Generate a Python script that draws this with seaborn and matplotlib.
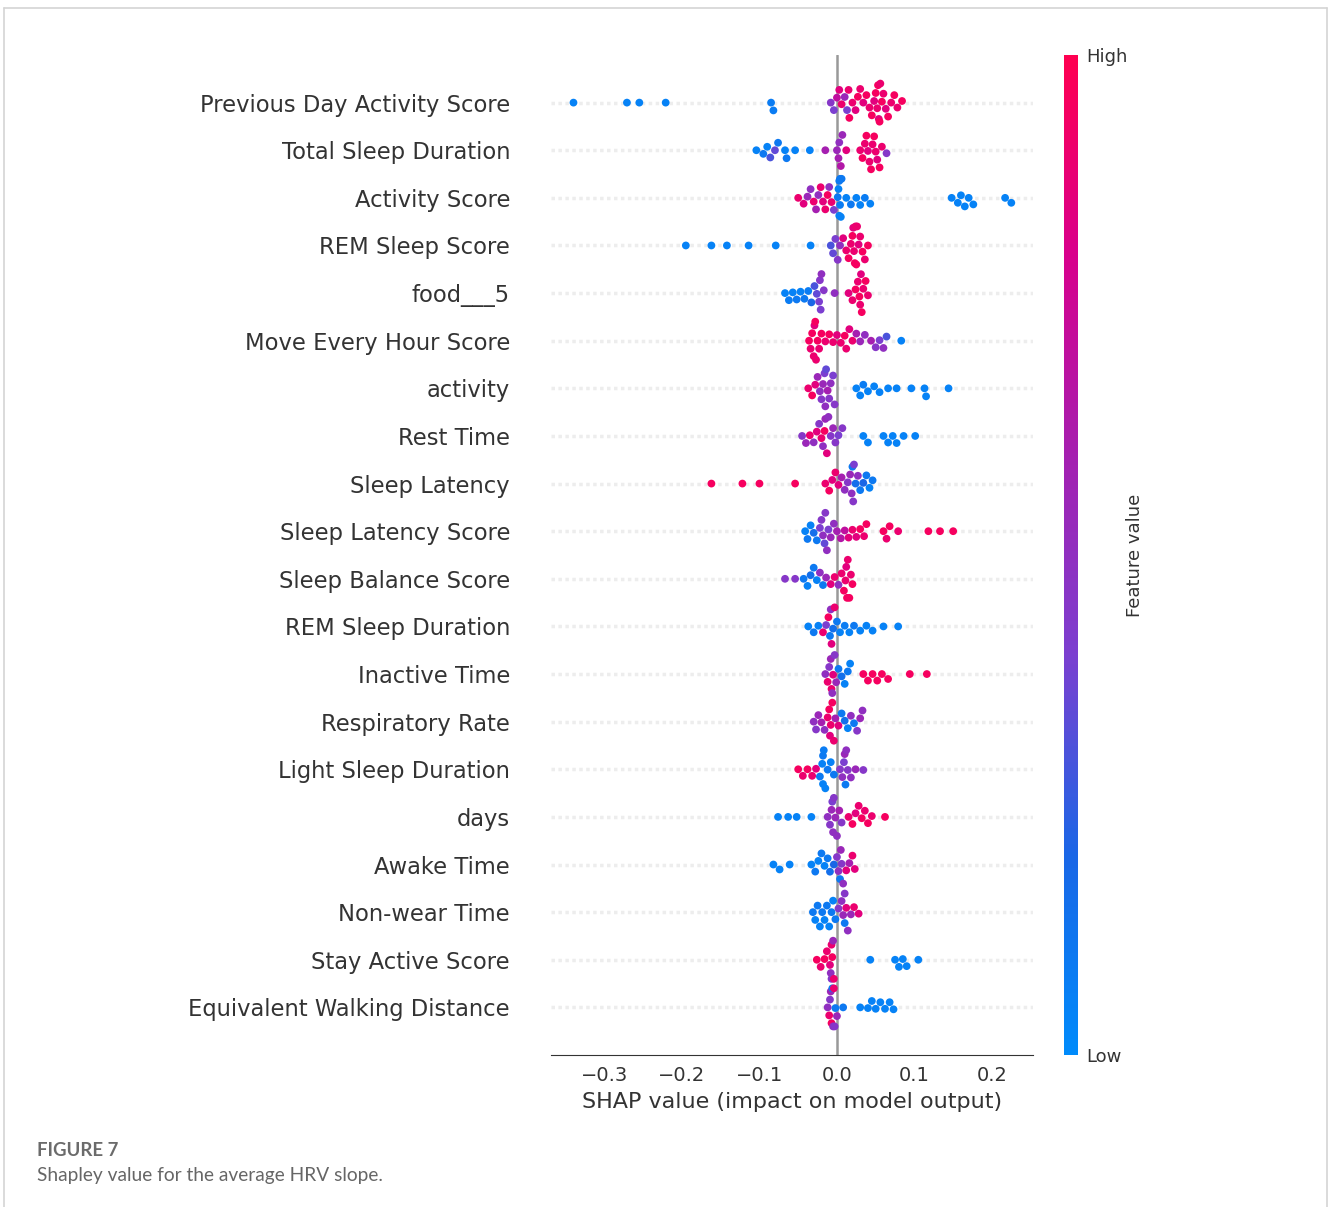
import warnings

import matplotlib.pyplot as plt
import pandas as pd
import seaborn as sns
from matplotlib.cm import ScalarMappable
from matplotlib.colors import LinearSegmentedColormap, Normalize
from matplotlib.lines import Line2D

warnings.filterwarnings("ignore")

features = [
    "Previous Day Activity Score", "Total Sleep Duration", "Activity Score",
    "REM Sleep Score", "food___5", "Move Every Hour Score", "activity",
    "Rest Time", "Sleep Latency", "Sleep Latency Score", "Sleep Balance Score",
    "REM Sleep Duration", "Inactive Time", "Respiratory Rate",
    "Light Sleep Duration", "days", "Awake Time", "Non-wear Time",
    "Stay Active Score", "Equivalent Walking Distance",
]

# SHAP values and (normalised) feature values, one pair per row
prev_day_shap = [-0.340, -0.271, -0.255, -0.221, -0.085, -0.082, -0.008, -0.004, 0.000, 0.003,
                 0.006, 0.010, 0.013, 0.015, 0.016, 0.020, 0.024, 0.027, 0.030, 0.034, 0.038,
                 0.042, 0.045, 0.048, 0.050, 0.052, 0.053, 0.054, 0.055, 0.056, 0.058, 0.060,
                 0.063, 0.066, 0.070, 0.074, 0.078, 0.084]
prev_day_val = [0.05, 0.05, 0.05, 0.05, 0.08, 0.08, 0.45, 0.4, 0.7, 0.85, 0.9, 0.55, 0.4, 0.9,
                0.95, 0.9, 0.85, 0.95, 0.9, 0.85, 0.95, 0.9, 0.95, 0.85, 0.95, 0.9, 0.95, 0.85,
                0.95, 0.9, 0.95, 0.9, 0.85, 0.95, 0.9, 0.95, 0.9, 0.95]

total_sleep_shap = [-0.104, -0.095, -0.090, -0.086, -0.080, -0.076, -0.067, -0.065, -0.054, -0.035,
                    -0.015, 0.000, 0.002, 0.003, 0.005, 0.007, 0.012, 0.030, 0.033, 0.036, 0.038,
                    0.040, 0.042, 0.044, 0.046, 0.048, 0.050, 0.052, 0.055, 0.058, 0.064]
total_sleep_val = [0.05, 0.1, 0.05, 0.3, 0.35, 0.1, 0.05, 0.1, 0.05, 0.05, 0.6, 0.55, 0.6, 0.5,
                   0.65, 0.55, 0.85, 0.9, 0.95, 0.9, 0.95, 0.85, 0.9, 0.95, 0.9, 0.95, 0.9, 0.85,
                   0.95, 0.9, 0.45]

activity_score_shap = [-0.050, -0.043, -0.038, -0.034, -0.030, -0.027, -0.024, -0.021, -0.018,
                       -0.015, -0.012, -0.010, -0.007, -0.004, 0.001, 0.002, 0.003, 0.003, 0.004,
                       0.004, 0.005, 0.006, 0.012, 0.018, 0.025, 0.030, 0.036, 0.043, 0.148,
                       0.156, 0.160, 0.165, 0.170, 0.176, 0.217, 0.225]
activity_score_val = [0.9, 0.85, 0.55, 0.5, 0.9, 0.6, 0.5, 0.9, 0.85, 0.9, 0.95, 0.5, 0.9, 0.4,
                      0.1, 0.05, 0.1, 0.05, 0.08, 0.1, 0.05, 0.1, 0.05, 0.1, 0.05, 0.05, 0.08,
                      0.05, 0.05, 0.05, 0.05, 0.05, 0.05, 0.05, 0.05, 0.05]

rem_score_shap = [-0.195, -0.162, -0.142, -0.114, -0.079, -0.034, -0.008, -0.005, -0.002, 0.001,
                  0.004, 0.008, 0.012, 0.015, 0.018, 0.020, 0.021, 0.022, 0.023, 0.024, 0.025,
                  0.026, 0.028, 0.030, 0.033, 0.036, 0.040]
rem_score_val = [0.05, 0.05, 0.05, 0.05, 0.05, 0.05, 0.3, 0.35, 0.4, 0.45, 0.5, 0.85, 0.9, 0.95,
                 0.9, 0.95, 0.85, 0.9, 0.95, 0.9, 0.95, 0.9, 0.85, 0.9, 0.95, 0.9, 0.95]

food_shap = [-0.067, -0.062, -0.057, -0.052, -0.047, -0.042, -0.037, -0.033, -0.029, -0.026,
             -0.023, -0.022, -0.021, -0.020, -0.017, -0.003, 0.015, 0.020, 0.024, 0.027, 0.029,
             0.030, 0.031, 0.032, 0.034, 0.037, 0.040]
food_val = [0.05, 0.08, 0.05, 0.1, 0.05, 0.1, 0.08, 0.2, 0.3, 0.35, 0.4, 0.45, 0.4, 0.5, 0.45,
            0.5, 0.85, 0.9, 0.95, 0.9, 0.95, 0.9, 0.85, 0.95, 0.9, 0.95, 0.9]

move_hour_shap = [-0.036, -0.034, -0.032, -0.030, -0.029, -0.028, -0.027, -0.025, -0.023, -0.020,
                  -0.015, -0.010, -0.005, 0.000, 0.005, 0.010, 0.012, 0.016, 0.020, 0.025, 0.030,
                  0.036, 0.044, 0.050, 0.055, 0.060, 0.064, 0.083]
move_hour_val = [0.95, 0.9, 0.95, 0.9, 0.85, 0.95, 0.9, 0.95, 0.9, 0.95, 0.9, 0.95, 0.9, 0.85,
                 0.9, 0.95, 0.9, 0.85, 0.9, 0.6, 0.55, 0.5, 0.6, 0.45, 0.4, 0.5, 0.3, 0.05]

activity_shap = [-0.037, -0.032, -0.028, -0.025, -0.022, -0.020, -0.018, -0.016, -0.015, -0.014,
                 -0.012, -0.010, -0.008, -0.005, -0.003, 0.025, 0.030, 0.034, 0.040, 0.048,
                 0.055, 0.066, 0.077, 0.096, 0.113, 0.115, 0.144]
activity_val = [0.9, 0.95, 0.85, 0.55, 0.5, 0.45, 0.55, 0.4, 0.5, 0.35, 0.6, 0.45, 0.5, 0.4, 0.45,
                0.05, 0.05, 0.08, 0.05, 0.05, 0.05, 0.05, 0.05, 0.05, 0.05, 0.05, 0.05]

rest_shap = [-0.045, -0.040, -0.035, -0.030, -0.026, -0.023, -0.020, -0.018, -0.016, -0.015,
             -0.013, -0.011, -0.008, -0.005, -0.002, 0.002, 0.007, 0.034, 0.040, 0.060, 0.066,
             0.072, 0.077, 0.086, 0.101]
rest_val = [0.45, 0.55, 0.9, 0.5, 0.85, 0.45, 0.9, 0.5, 0.95, 0.55, 0.85, 0.5, 0.45, 0.55, 0.45,
            0.4, 0.45, 0.05, 0.05, 0.05, 0.05, 0.05, 0.05, 0.05, 0.05]

latency_shap = [-0.162, -0.122, -0.100, -0.054, -0.015, -0.010, -0.006, -0.002, 0.002, 0.006,
                0.010, 0.014, 0.017, 0.019, 0.020, 0.021, 0.022, 0.024, 0.027, 0.030, 0.034,
                0.038, 0.042, 0.046]
latency_val = [0.95, 0.95, 0.95, 0.95, 0.9, 0.95, 0.85, 0.9, 0.85, 0.6, 0.5, 0.45, 0.55, 0.5,
               0.1, 0.45, 0.4, 0.15, 0.5, 0.1, 0.2, 0.1, 0.05, 0.1]

latency_score_shap = [-0.041, -0.038, -0.034, -0.030, -0.026, -0.022, -0.020, -0.018, -0.016,
                      -0.015, -0.013, -0.011, -0.008, -0.004, 0.000, 0.005, 0.010, 0.015, 0.020,
                      0.025, 0.030, 0.035, 0.038, 0.060, 0.064, 0.068, 0.079, 0.118, 0.133, 0.150]
latency_score_val = [0.05, 0.1, 0.05, 0.15, 0.1, 0.4, 0.45, 0.5, 0.35, 0.45, 0.5, 0.4, 0.55, 0.5,
                     0.6, 0.65, 0.7, 0.85, 0.9, 0.85, 0.95, 0.9, 0.95, 0.95, 0.9, 0.95, 0.9, 0.95,
                     0.95, 0.95]

balance_shap = [-0.067, -0.054, -0.043, -0.038, -0.034, -0.030, -0.026, -0.022, -0.018, -0.014,
                -0.008, -0.003, 0.002, 0.006, 0.009, 0.011, 0.012, 0.013, 0.014, 0.016, 0.018,
                0.020]
balance_val = [0.45, 0.45, 0.1, 0.05, 0.15, 0.1, 0.05, 0.5, 0.1, 0.55, 0.85, 0.9, 0.5, 0.9, 0.95,
               0.9, 0.85, 0.95, 0.9, 0.95, 0.9, 0.95]

rem_dur_shap = [-0.037, -0.030, -0.024, -0.018, -0.014, -0.011, -0.009, -0.008, -0.007, -0.005,
                -0.003, 0.000, 0.004, 0.010, 0.016, 0.022, 0.030, 0.038, 0.046, 0.060, 0.079]
rem_dur_val = [0.05, 0.1, 0.05, 0.9, 0.4, 0.95, 0.1, 0.5, 0.85, 0.15, 0.9, 0.1, 0.05, 0.08, 0.05,
               0.1, 0.05, 0.05, 0.05, 0.05, 0.05]

inactive_shap = [-0.015, -0.012, -0.010, -0.008, -0.007, -0.006, -0.005, -0.003, -0.001, 0.002,
                 0.006, 0.010, 0.014, 0.017, 0.034, 0.040, 0.046, 0.052, 0.058, 0.066, 0.094,
                 0.116]
inactive_val = [0.5, 0.9, 0.45, 0.55, 0.9, 0.5, 0.85, 0.45, 0.55, 0.1, 0.15, 0.05, 0.1, 0.05,
                0.95, 0.95, 0.95, 0.95, 0.95, 0.95, 0.95, 0.95]

resp_shap = [-0.030, -0.027, -0.024, -0.020, -0.016, -0.012, -0.010, -0.009, -0.008, -0.006,
             -0.004, -0.002, 0.002, 0.006, 0.010, 0.014, 0.018, 0.022, 0.026, 0.030, 0.033]
resp_val = [0.5, 0.45, 0.55, 0.6, 0.5, 0.9, 0.95, 0.85, 0.9, 0.95, 0.9, 0.6, 0.85, 0.1, 0.15,
            0.05, 0.5, 0.1, 0.45, 0.55, 0.5]

light_shap = [-0.050, -0.044, -0.038, -0.032, -0.027, -0.022, -0.019, -0.018, -0.018, -0.017,
              -0.015, -0.012, -0.008, -0.004, 0.004, 0.007, 0.009, 0.010, 0.011, 0.012, 0.014,
              0.018, 0.024, 0.034]
light_val = [0.95, 0.9, 0.95, 0.9, 0.85, 0.1, 0.05, 0.1, 0.05, 0.08, 0.05, 0.1, 0.05, 0.1, 0.45,
             0.5, 0.4, 0.55, 0.1, 0.5, 0.45, 0.5, 0.55, 0.45]

days_shap = [-0.076, -0.063, -0.052, -0.033, -0.012, -0.009, -0.007, -0.006, -0.005, -0.004,
             -0.002, 0.000, 0.003, 0.006, 0.015, 0.020, 0.024, 0.028, 0.032, 0.036, 0.040, 0.045,
             0.062]
days_val = [0.05, 0.05, 0.05, 0.05, 0.5, 0.45, 0.55, 0.4, 0.5, 0.45, 0.55, 0.5, 0.6, 0.45, 0.9,
            0.95, 0.85, 0.9, 0.95, 0.9, 0.95, 0.9, 0.95]

awake_shap = [-0.082, -0.074, -0.061, -0.033, -0.028, -0.024, -0.020, -0.016, -0.012, -0.009,
              -0.004, 0.000, 0.002, 0.004, 0.005, 0.006, 0.008, 0.012, 0.016, 0.020, 0.023]
awake_val = [0.05, 0.05, 0.05, 0.05, 0.1, 0.05, 0.1, 0.05, 0.1, 0.15, 0.2, 0.45, 0.5, 0.1, 0.55,
             0.45, 0.5, 0.85, 0.6, 0.9, 0.85]

nonwear_shap = [-0.031, -0.028, -0.025, -0.022, -0.019, -0.016, -0.013, -0.010, -0.007, -0.005,
                -0.002, 0.002, 0.006, 0.008, 0.010, 0.010, 0.012, 0.014, 0.018, 0.022, 0.028]
nonwear_val = [0.1, 0.05, 0.1, 0.05, 0.1, 0.05, 0.1, 0.05, 0.1, 0.05, 0.1, 0.45, 0.5, 0.55, 0.1,
               0.45, 0.85, 0.5, 0.55, 0.9, 0.85]

stay_active_shap = [-0.026, -0.021, -0.016, -0.013, -0.009, -0.008, -0.007, -0.007, -0.006,
                    -0.005, -0.004, 0.043, 0.075, 0.080, 0.085, 0.090, 0.105]
stay_active_val = [0.95, 0.9, 0.95, 0.9, 0.85, 0.5, 0.9, 0.45, 0.95, 0.55, 0.9, 0.05, 0.05, 0.05,
                   0.05, 0.05, 0.05]

walking_shap = [-0.012, -0.010, -0.009, -0.008, -0.007, -0.006, -0.005, -0.004, -0.003, -0.002,
                0.000, 0.008, 0.030, 0.040, 0.045, 0.050, 0.056, 0.062, 0.068, 0.073]
walking_val = [0.5, 0.9, 0.45, 0.55, 0.95, 0.1, 0.5, 0.9, 0.45, 0.1, 0.55, 0.1, 0.05, 0.05, 0.05,
               0.05, 0.05, 0.05, 0.05, 0.05]

x_ticks = [-0.3, -0.2, -0.1, 0.0, 0.1, 0.2]

rows = [
    (prev_day_shap, prev_day_val), (total_sleep_shap, total_sleep_val),
    (activity_score_shap, activity_score_val), (rem_score_shap, rem_score_val),
    (food_shap, food_val), (move_hour_shap, move_hour_val), (activity_shap, activity_val),
    (rest_shap, rest_val), (latency_shap, latency_val),
    (latency_score_shap, latency_score_val), (balance_shap, balance_val),
    (rem_dur_shap, rem_dur_val), (inactive_shap, inactive_val), (resp_shap, resp_val),
    (light_shap, light_val), (days_shap, days_val), (awake_shap, awake_val),
    (nonwear_shap, nonwear_val), (stay_active_shap, stay_active_val),
    (walking_shap, walking_val),
]

frames = []
for name, (shap_vals, feat_vals) in zip(features, rows):
    frames.append(pd.DataFrame({"feature": name, "shap": shap_vals, "value": feat_vals}))
df = pd.concat(frames, ignore_index=True)

shap_cmap = LinearSegmentedColormap.from_list(
    "shap_red_blue",
    ["#008bfb", "#1a66e6", "#7b3fd0", "#a51fb0", "#d8008c", "#ff0051"],
)

sns.set_style("white")
plt.rcParams["font.family"] = ["DejaVu Sans"]

W, H = 1328, 1207
fig = plt.figure(figsize=(W / 100, H / 100), dpi=100)
ax = fig.add_axes([551 / W, 1 - 1055 / H, 482 / W, 1000 / H])

for i in range(len(features)):
    ax.axhline(i, color="#ededed", lw=2.5, dashes=(1, 1), zorder=-2)
ax.axvline(0, color="#999999", lw=1.8, zorder=-1)

sns.swarmplot(
    data=df, x="shap", y="feature", hue="value", order=features,
    palette=shap_cmap, hue_norm=(0, 1), size=5.6, orient="h",
    legend=False, linewidth=0, ax=ax,
)

ax.set_xlim(-0.369, 0.253)
ax.set_ylim(20, -1)
ax.set_xticks(x_ticks)
ax.set_xticklabels([f"{t:.1f}".replace("-", "\u2212") for t in x_ticks])
ax.set_xlabel("SHAP value (impact on model output)", fontsize=16, color="#333333", labelpad=5)
ax.set_ylabel("")
for side in ["left", "right", "top"]:
    ax.spines[side].set_visible(False)
ax.spines["bottom"].set_color("#333333")
ax.tick_params(axis="x", labelsize=14, colors="#333333", length=4, width=1, pad=4)
ax.tick_params(axis="y", labelsize=16.3, colors="#333333", length=0, pad=29.5)

cax = fig.add_axes([1064 / W, 1 - 1055 / H, 14 / W, 1000 / H])
sm = ScalarMappable(norm=Normalize(0, 1), cmap=shap_cmap)
cb = fig.colorbar(sm, cax=cax, ticks=[0, 1])
cb.set_ticklabels(["Low", "High"])
cb.outline.set_visible(False)
cax.tick_params(length=0, labelsize=13, colors="#333333", pad=6)
cax.text(5.1, 0.5, "Feature value", rotation=90, transform=cax.transAxes,
         ha="center", va="center", fontsize=13, color="#333333")

# thin frame around the figure panel
frame_kw = dict(color="#d4d4d4", lw=1.2, transform=fig.transFigure)
fig.add_artist(Line2D([4 / W, 4 / W], [0, 1 - 8 / H], **frame_kw))
fig.add_artist(Line2D([4 / W, 1327 / W], [1 - 8 / H, 1 - 8 / H], **frame_kw))
fig.add_artist(Line2D([1327 / W, 1327 / W], [0, 1 - 8 / H], **frame_kw))

fig.text(37 / W, 1 - 1151 / H, "FIGURE 7", fontsize=13.4, fontweight="bold",
         color="#6b6b6b", va="center", ha="left", family=["Lato", "DejaVu Sans"])
fig.text(37 / W, 1 - 1176 / H, "Shapley value for the average HRV slope.", fontsize=13.8,
         color="#666666", va="center", ha="left", family=["Lato", "DejaVu Sans"])

fig.savefig("out.png", dpi=100)
